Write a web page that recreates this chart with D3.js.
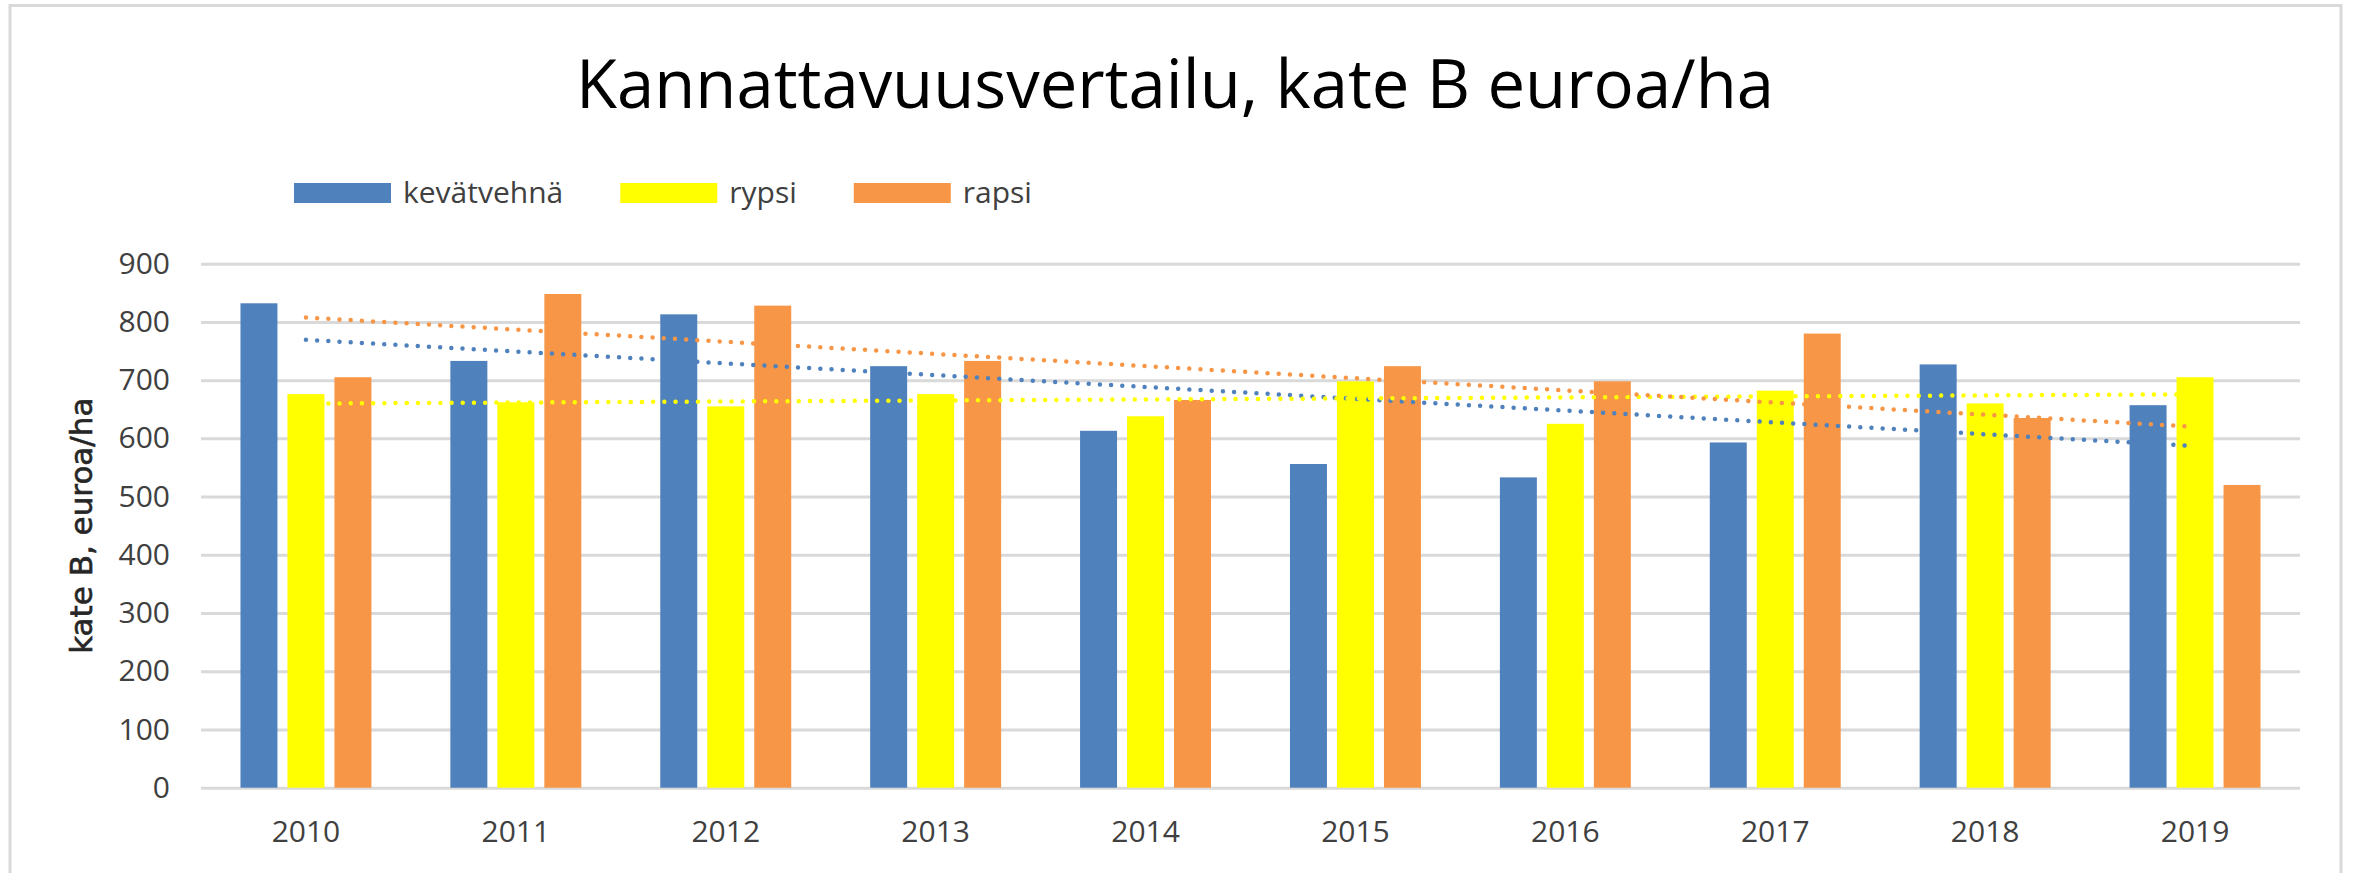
<!DOCTYPE html>
<html>
<head>
<meta charset="utf-8">
<script src="https://cdn.jsdelivr.net/npm/d3@7"></script>
<style>
  body { margin: 0; background: #fff; }
  text { font-family: "Open Sans", sans-serif; }
</style>
</head>
<body>
<div id="chart"></div>
<script>
// chart data
var years = ['2010', '2011', '2012', '2013', '2014', '2015', '2016', '2017', '2018', '2019'];
var seriesNames = ['kevätvehnä', 'rypsi', 'rapsi'];
var kevatvehna = [832, 733, 813, 724, 613, 556, 533, 593, 727, 657];
var rypsi = [676, 662, 655, 676, 638, 698, 625, 682, 660, 705];
var rapsi = [705, 848, 828, 733, 666, 724, 698, 780, 635, 520];
var yTicks = [0, 100, 200, 300, 400, 500, 600, 700, 800, 900];
var colors = ['#4f81bd', '#ffff00', '#f79646'];

var svgWidth = 2354,
	svgHeight = 873;

// plot area
var margin = { top: 263.7, right: 54, bottom: 85.3, left: 201 };
var width = svgWidth - margin.left - margin.right,
	height = svgHeight - margin.top - margin.bottom;

var svg = d3.select('#chart')
	.append('svg')
	.attr('width', svgWidth)
	.attr('height', svgHeight);

// outer frame of the chart
svg.append('rect')
	.attr('x', 10)
	.attr('y', 5.5)
	.attr('width', 2331)
	.attr('height', 1000)
	.attr('fill', '#fff')
	.attr('stroke', '#d9d9d9')
	.attr('stroke-width', 3);

// title
svg.append('text')
	.attr('x', 1175)
	.attr('y', 108)
	.attr('text-anchor', 'middle')
	.style('font-size', '67px')
	.attr('fill', '#000')
	.text('Kannattavuusvertailu, kate B euroa/ha');

var chartGroup = svg.append('g')
	.attr('transform', `translate(${margin.left},${margin.top})`);

var xScale = d3.scaleBand()
	.domain(years)
	.range([0, width]);

var xInner = d3.scaleBand()
	.domain(seriesNames)
	.range([0, xScale.bandwidth()])
	.paddingInner(0.213)
	.paddingOuter(0.84);

var yScale = d3.scaleLinear()
	.domain([0, 900])
	.range([height, 0]);

// gridlines
chartGroup.append('g')
	.call(d3.axisLeft(yScale).tickValues(yTicks).tickSize(-width).tickFormat(''))
	.call(g => g.select('.domain').remove())
	.call(g => g.selectAll('line').attr('stroke', '#d9d9d9').attr('stroke-width', 3));

// y axis labels
chartGroup.append('g')
	.call(d3.axisLeft(yScale).tickValues(yTicks).tickSize(0).tickPadding(31))
	.call(g => g.select('.domain').remove())
	.call(g => g.selectAll('text')
		.attr('fill', '#404040')
		.style('font-size', '30px')
		.style('font-family', '"Open Sans", sans-serif'));

// x axis labels
chartGroup.append('g')
	.attr('transform', `translate(0,${height})`)
	.call(d3.axisBottom(xScale).tickSize(0).tickPadding(33))
	.call(g => g.select('.domain').remove())
	.call(g => g.selectAll('text')
		.attr('fill', '#404040')
		.style('font-size', '30px')
		.style('font-family', '"Open Sans", sans-serif'));

// bars
var allSeries = [kevatvehna, rypsi, rapsi];
var data = years.map((yr, i) => ({
	year: yr,
	values: seriesNames.map((s, j) => ({ name: s, value: allSeries[j][i], color: colors[j] }))
}));

var groups = chartGroup.append('g').selectAll('g')
	.data(data)
	.enter()
	.append('g')
	.attr('transform', d => `translate(${xScale(d.year)},0)`);

groups.selectAll('rect')
	.data(d => d.values)
	.enter()
	.append('rect')
	.attr('x', d => xInner(d.name))
	.attr('y', d => yScale(d.value))
	.attr('width', xInner.bandwidth())
	.attr('height', d => height - yScale(d.value))
	.attr('fill', d => d.color);

// linear trend lines (least squares, like Excel's trendline)
function linearFit(vals) {
	var n = vals.length,
		xm = (n - 1) / 2,
		ym = d3.mean(vals);
	var sxy = d3.sum(vals, (v, i) => (i - xm) * (v - ym)),
		sxx = d3.sum(vals, (v, i) => (i - xm) * (i - xm));
	var slope = sxy / sxx;
	return i => ym + slope * (i - xm);
}

var trendLine = d3.line()
	.x(d => xScale(d.year) + xScale.bandwidth() / 2)
	.y(d => yScale(d.value));

allSeries.forEach((vals, j) => {
	var fit = linearFit(vals);
	var pts = [
		{ year: years[0], value: fit(0) },
		{ year: years[years.length - 1], value: fit(years.length - 1) }
	];
	chartGroup.append('path')
		.datum(pts)
		.attr('d', trendLine)
		.attr('fill', 'none')
		.attr('stroke', colors[j])
		.attr('stroke-width', 4.5)
		.attr('stroke-linecap', 'round')
		.attr('stroke-dasharray', '0 11.2');
});

// y axis title
svg.append('text')
	.attr('transform', `translate(92,${margin.top + height / 2})rotate(-90)`)
	.attr('text-anchor', 'middle')
	.style('font-family', '"DejaVu Sans", sans-serif')
	.style('font-size', '31px')
	.attr('fill', '#262626')
	.attr('stroke', '#262626')
	.attr('stroke-width', 0.6)
	.text('kate B, euroa/ha');

// legend
var legend = svg.append('g');
var lx = 294;
seriesNames.forEach((s, j) => {
	legend.append('rect')
		.attr('x', lx)
		.attr('y', 183)
		.attr('width', 97)
		.attr('height', 20)
		.attr('fill', colors[j]);
	var t = legend.append('text')
		.attr('x', lx + 109)
		.attr('y', 203)
		.attr('fill', '#404040')
		.style('font-size', '30px')
		.text(s);
	lx += 109 + t.node().getComputedTextLength() + 57;
});
</script>
</body>
</html>
